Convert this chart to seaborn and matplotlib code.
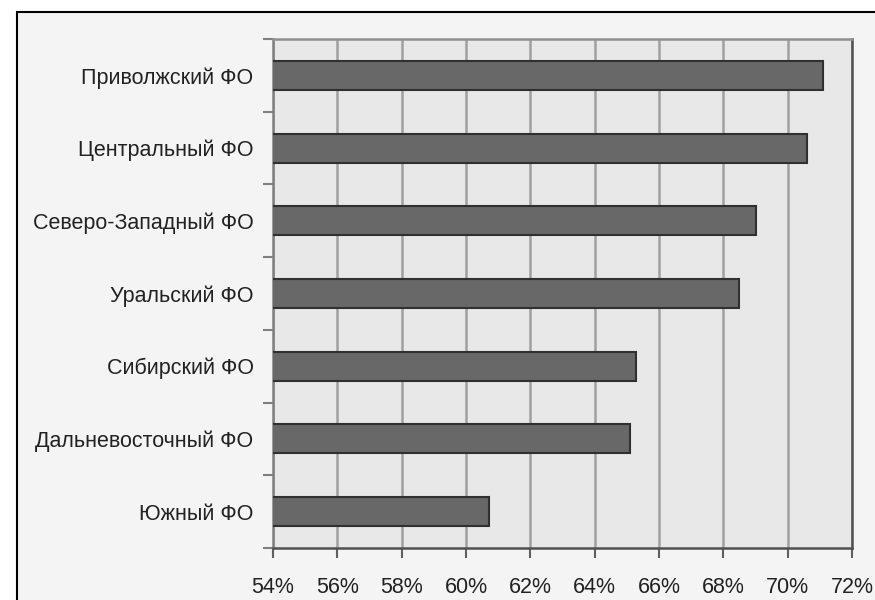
import matplotlib
matplotlib.use("Agg")
import matplotlib.pyplot as plt
import seaborn as sns
import pandas as pd
from matplotlib.patches import Rectangle
from matplotlib.ticker import FixedLocator

categories = ["Приволжский ФО", "Центральный ФО", "Северо-Западный ФО",
              "Уральский ФО", "Сибирский ФО", "Дальневосточный ФО", "Южный ФО"]
values = [71.1, 70.6, 69.0, 68.5, 65.3, 65.1, 60.7]
x_ticks = [54, 56, 58, 60, 62, 64, 66, 68, 70, 72]
x_tick_labels = [f"{t}%" for t in x_ticks]

df = pd.DataFrame({"region": categories, "value": values})

sns.set_theme(style="white")
plt.rcParams["font.family"] = ["Liberation Sans", "DejaVu Sans"]

fig = plt.figure(figsize=(8.75, 6), dpi=100)
fig.patch.set_facecolor("white")
W, H = 875, 600
frame = Rectangle((17 / W, -0.1), 1, 1.1 - 12 / H, transform=fig.transFigure,
                  facecolor="#f4f4f4", edgecolor="black", linewidth=1.5, zorder=-5)
fig.patches.append(frame)

ax = fig.add_axes([273 / W, 1 - 548 / H, (852 - 273) / W, (548 - 39) / H])
ax.set_zorder(2)
ax.set_facecolor("#e8e8e8")

sns.barplot(data=df, y="region", x="value", orient="h", color="#686868",
            edgecolor="#303030", linewidth=1.5, width=0.4, saturation=1, ax=ax, zorder=3)

ax.set_xlim(54, 72)
ax.set_ylim(6.5, -0.5)
ax.set_xticks(x_ticks)
ax.set_xticklabels(x_tick_labels)
ax.set_xlabel("")
ax.set_ylabel("")

for t in x_ticks:
    ax.axvline(t, color="#a0a0a0", linewidth=1.8, zorder=1)

ax.yaxis.set_minor_locator(FixedLocator([i - 0.5 for i in range(8)]))
ax.tick_params(axis="y", which="major", length=0, pad=14, labelsize=15.5, labelcolor="#222222")
ax.tick_params(axis="y", which="minor", length=7, width=1.5, color="#808080", left=True)
ax.tick_params(axis="x", which="major", length=7, width=1.5, color="#606060", bottom=True,
               pad=14, labelsize=15.5, labelcolor="#222222")

for side, col in [("left", "#808080"), ("bottom", "#505050"), ("right", "#505050"), ("top", "#909090")]:
    ax.spines[side].set_visible(True)
    ax.spines[side].set_color(col)
    ax.spines[side].set_linewidth(1.8)

fig.savefig("out.png", dpi=100, facecolor=fig.get_facecolor())
